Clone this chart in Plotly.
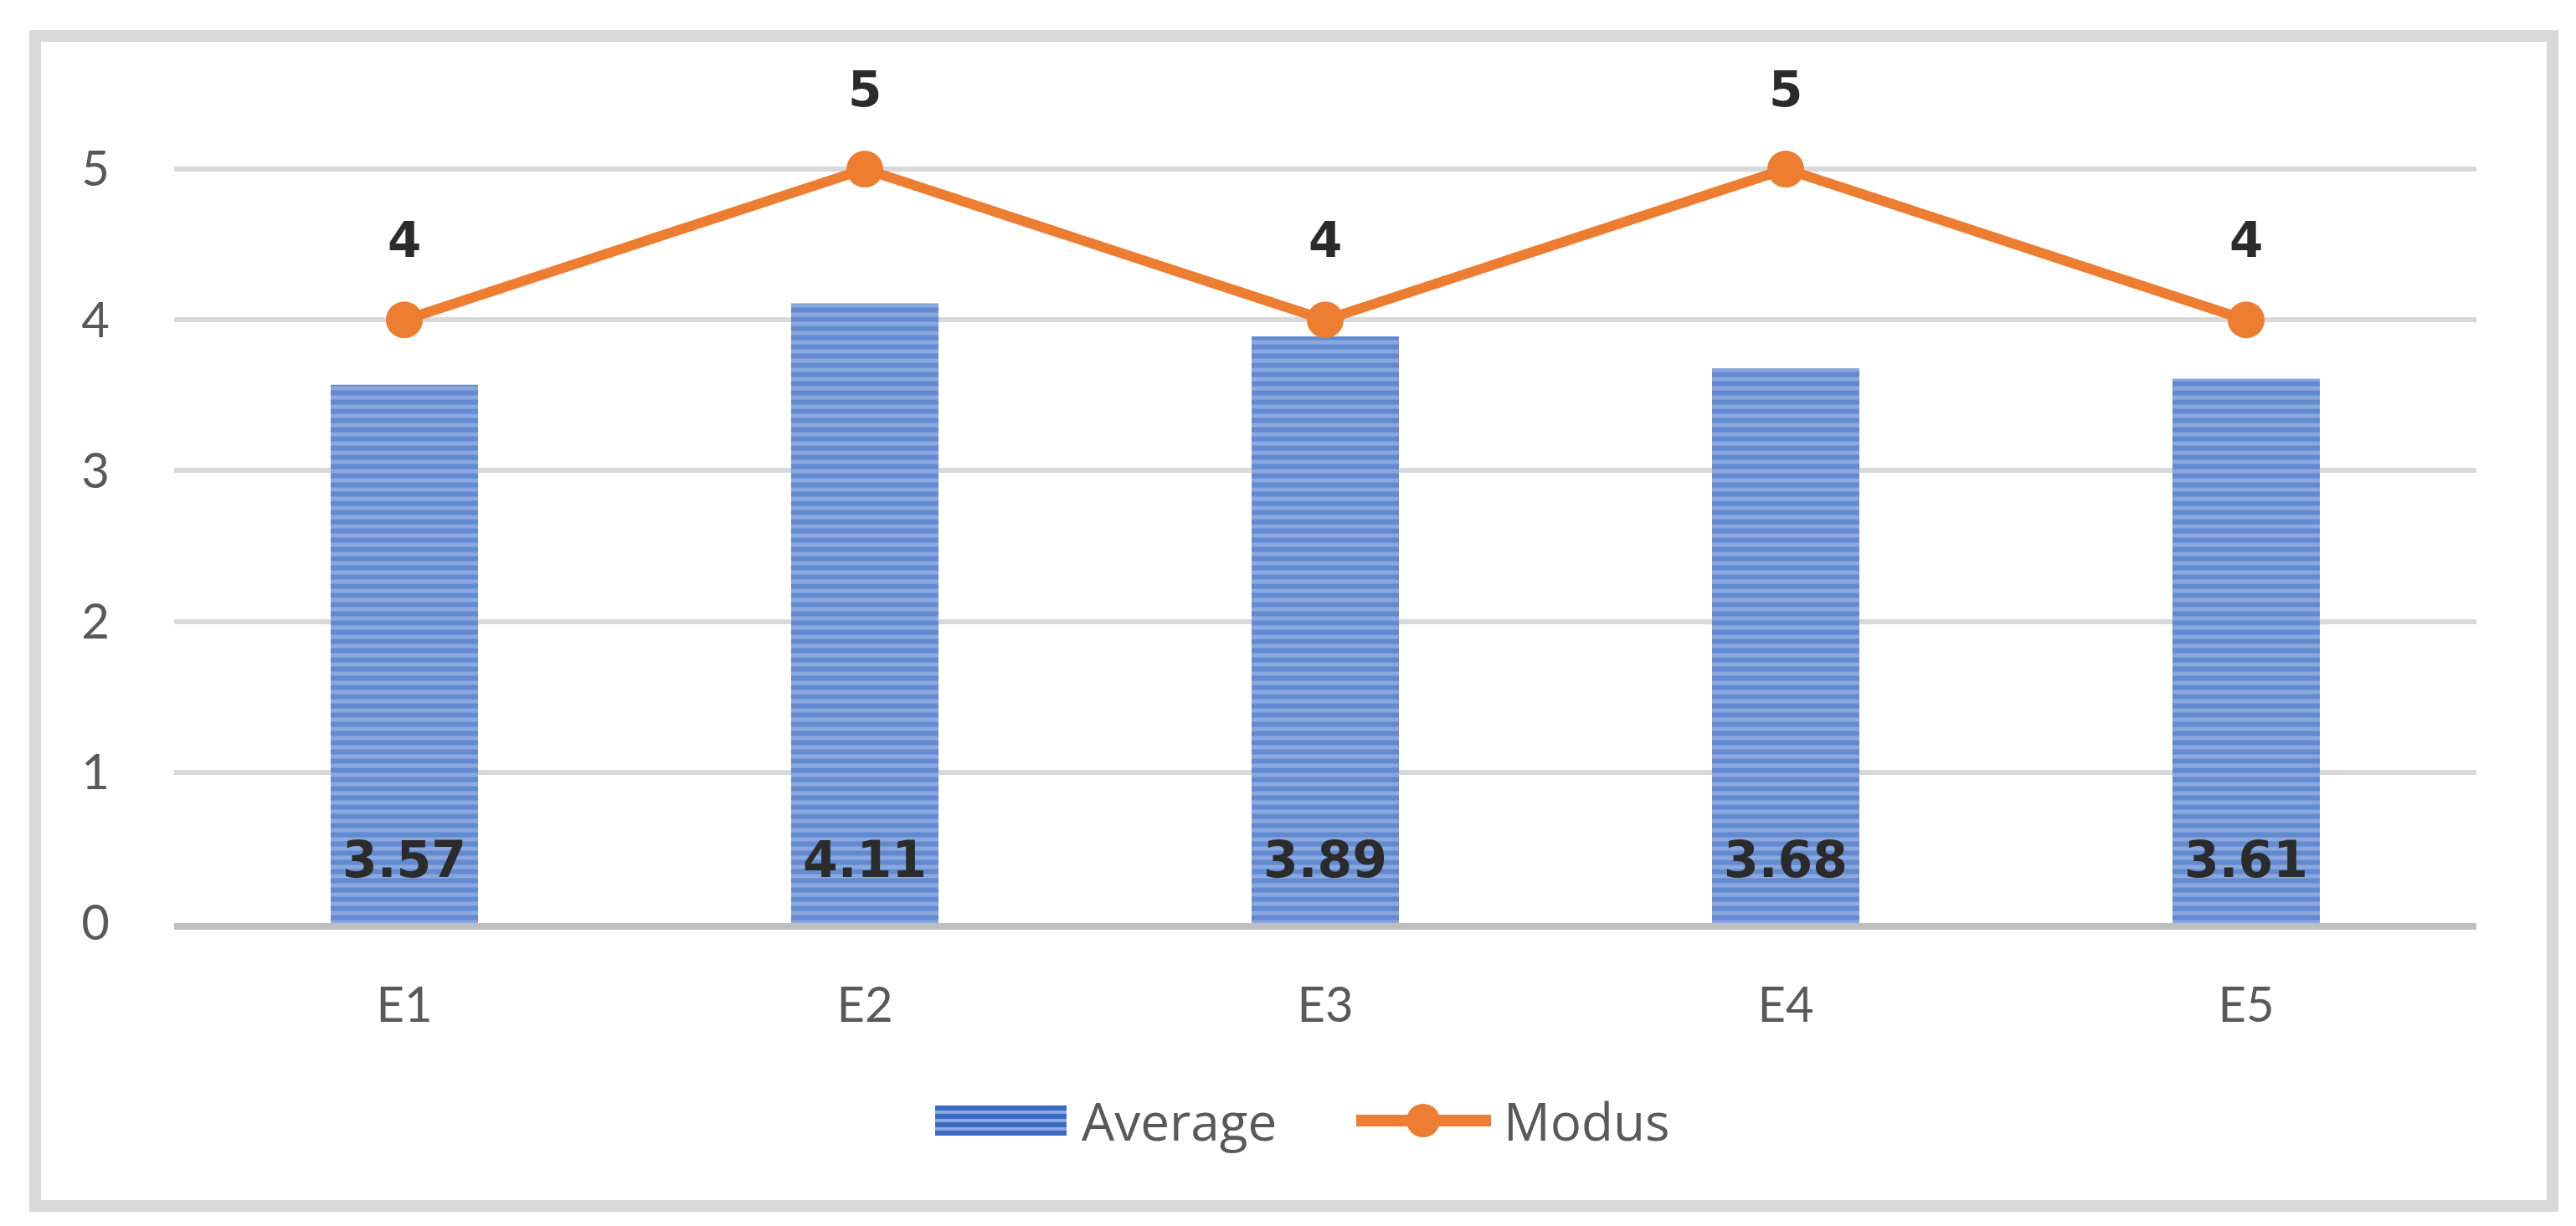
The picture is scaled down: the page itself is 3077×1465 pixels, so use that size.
import plotly.graph_objects as go

categories = ["E1", "E2", "E3", "E4", "E5"]
average = [3.57, 4.11, 3.89, 3.68, 3.61]
modus = [4, 5, 4, 5, 4]
y_ticks = [0, 1, 2, 3, 4, 5]
series_names = ["Average", "Modus"]

FONT = "Lato"
LABEL_FONT = "DejaVu Sans"
BLUE_DARK = "#3a6bc4"
BLUE_LIGHT = "#8aa8de"
ORANGE = "#ed7d31"
W, H = 3077, 1465
ML, MR, MT, MB = 200, 127, 104, 370

fig = go.Figure()
fig.add_trace(go.Bar(
    x=categories, y=average, name=series_names[0], width=0.32, showlegend=False,
    marker=dict(color=BLUE_LIGHT, line=dict(width=0),
                pattern=dict(shape="-", fgcolor=BLUE_DARK, bgcolor=BLUE_LIGHT,
                             size=11, solidity=0.55)),
))
fig.add_trace(go.Scatter(
    x=categories, y=modus, name=series_names[1], mode="lines+markers", showlegend=False,
    line=dict(color=ORANGE, width=12),
    marker=dict(color=ORANGE, size=44),
    cliponaxis=False,
))

for c, v in zip(categories, average):
    fig.add_annotation(x=c, y=0, text=f"<b>{v:.2f}</b>", showarrow=False,
                       yanchor="middle", yshift=76,
                       font=dict(family=LABEL_FONT, size=60, color="#2b2b2b"))
for c, v in zip(categories, modus):
    fig.add_annotation(x=c, y=v, text=f"<b>{v}</b>", showarrow=False,
                       yanchor="middle", yshift=95,
                       font=dict(family=LABEL_FONT, size=58, color="#2b2b2b"))

pw = W - ML - MR
ph = H - MT - MB
def px(x):
    return (x - ML) / pw
def py(y):
    return (H - MB - y) / ph

# outer frame
fig.add_shape(type="rect", xref="paper", yref="paper",
              x0=px(34), x1=px(3041), y0=py(1433), y1=py(35),
              line=dict(color="#d9d9d9", width=14), layer="below")

# custom legend
LY = 1331
fig.add_shape(type="rect", xref="paper", yref="paper",
              x0=px(1109), x1=px(1266), y0=py(LY + 18), y1=py(LY - 18),
              fillcolor=BLUE_DARK, line=dict(width=0))
for dy in (-10, 0, 10):
    fig.add_shape(type="line", xref="paper", yref="paper",
                  x0=px(1109), x1=px(1266), y0=py(LY + dy), y1=py(LY + dy),
                  line=dict(color=BLUE_LIGHT, width=4))
fig.add_annotation(xref="paper", yref="paper", x=px(1282), y=py(LY), text=series_names[0],
                   xanchor="left", yanchor="middle", showarrow=False,
                   font=dict(family="Open Sans", size=62, color="#595959"))
fig.add_shape(type="line", xref="paper", yref="paper",
              x0=px(1612), x1=px(1773), y0=py(LY), y1=py(LY),
              line=dict(color=ORANGE, width=14))
fig.add_shape(type="circle", xref="paper", yref="paper",
              x0=px(1692 - 20), x1=px(1692 + 20), y0=py(LY + 20), y1=py(LY - 20),
              fillcolor=ORANGE, line=dict(width=0))
fig.add_annotation(xref="paper", yref="paper", x=px(1786), y=py(LY), text=series_names[1],
                   xanchor="left", yanchor="middle", showarrow=False,
                   font=dict(family="Open Sans", size=62, color="#595959"))

fig.update_layout(
    width=W, height=H,
    margin=dict(l=ML, r=MR, t=MT, b=MB, autoexpand=False),
    paper_bgcolor="white", plot_bgcolor="white",
    font=dict(family=FONT, size=58, color="#595959"),
    showlegend=False,
    bargap=0.68,
)
fig.update_xaxes(showline=True, linecolor="#bfbfbf", linewidth=8, showgrid=False,
                 ticks="", ticklabelstandoff=40, tickfont=dict(size=58, color="#595959"))
fig.update_yaxes(range=[0, 5.5], tickvals=y_ticks, showgrid=True, gridcolor="#d9d9d9",
                 gridwidth=6, zeroline=False, showline=False, ticks="",
                 ticklabelstandoff=76, tickfont=dict(size=58, color="#595959"))

fig.write_html("out.html")
